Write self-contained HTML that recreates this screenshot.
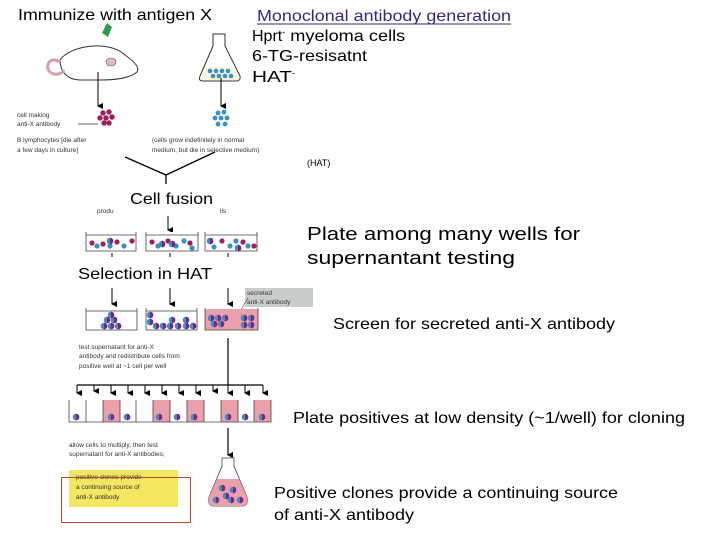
<!DOCTYPE html>
<html><head><meta charset="utf-8"><style>
html,body{margin:0;padding:0;background:#fff;}
svg{display:block;font-family:"Liberation Sans",sans-serif;}
</style></head><body>
<svg width="720" height="540" viewBox="0 0 720 540" xmlns="http://www.w3.org/2000/svg">
<defs>
<marker id="ah" markerWidth="6" markerHeight="6" refX="3" refY="5" orient="auto" markerUnits="userSpaceOnUse">
<path d="M0,0 L6,0 L3,6 z" fill="#000"/></marker>
<g id="cm"><circle r="3.3" fill="#3a8fc7"/><path d="M0,-3.3 A3.3,3.3 0 0 1 0,3.3 z" fill="#8a1f7a"/></g>
</defs>

<!-- Titles -->
<text x="18" y="20" font-size="16" textLength="194" lengthAdjust="spacingAndGlyphs">Immunize with antigen X</text>
<text x="257" y="21" font-size="16" fill="#2e2e7a" textLength="254" lengthAdjust="spacingAndGlyphs">Monoclonal antibody generation</text>
<line x1="257" y1="24" x2="511" y2="24" stroke="#2e2e7a" stroke-width="1"/>
<text x="252" y="41" font-size="16">Hprt<tspan font-size="9" dy="-6">-</tspan><tspan dy="6" textLength="120" lengthAdjust="spacingAndGlyphs"> myeloma cells</tspan></text>
<text x="252" y="61" font-size="16" textLength="115" lengthAdjust="spacingAndGlyphs">6-TG-resisatnt</text>
<text x="252" y="82" font-size="16" textLength="40" lengthAdjust="spacingAndGlyphs">HAT</text><text x="292" y="76" font-size="9">-</text>

<!-- mouse -->
<path d="M60,60 C70,45 110,40 125,55 C135,62 140,68 137,72 C130,78 115,80 100,80 L80,80 C68,80 60,72 60,60 z" fill="#fff" stroke="#333" stroke-width="1"/>
<path d="M60,62 C48,55 45,68 50,72 C55,76 62,74 64,70" fill="none" stroke="#d6a0a8" stroke-width="3"/>
<ellipse cx="111" cy="62" rx="5" ry="4" fill="#e4b8be" stroke="#555" stroke-width="0.6"/>
<path d="M102,33 L107,23 L112,27 L108,37 z" fill="#2e9a4e"/>
<!-- flask 1 -->
<path d="M213,34 L225,34 L225,46 L240,76 Q241,81 236,81 L203,81 Q198,81 200,76 L213,46 z" fill="#fff" stroke="#333" stroke-width="1"/>
<path d="M206,67 L233,67 L239,77 Q240,80 236,80 L203,80 Q200,80 201,77 z" fill="#f8f4dc"/>
<g fill="#3a8fc7"><circle cx="210" cy="71" r="2.3"/><circle cx="216" cy="71" r="2.3"/><circle cx="222" cy="71" r="2.3"/><circle cx="228" cy="71" r="2.3"/><circle cx="213" cy="76" r="2.3"/><circle cx="219" cy="76" r="2.3"/><circle cx="225" cy="76" r="2.3"/><circle cx="231" cy="76" r="2.3"/></g>

<line x1="98" y1="72" x2="98" y2="106" stroke="#000" marker-end="url(#ah)"/>
<line x1="221" y1="78" x2="221" y2="106" stroke="#000" marker-end="url(#ah)"/>
<g fill="#a0205e"><circle cx="103" cy="113" r="2.7"/><circle cx="109" cy="112" r="2.7"/><circle cx="100" cy="118" r="2.7"/><circle cx="106" cy="118" r="2.7"/><circle cx="112" cy="117" r="2.7"/><circle cx="104" cy="123" r="2.7"/><circle cx="109" cy="123" r="2.7"/></g>
<g fill="#3a8fc7"><circle cx="218" cy="113" r="2.4"/><circle cx="224" cy="112" r="2.4"/><circle cx="215" cy="118" r="2.4"/><circle cx="221" cy="118" r="2.4"/><circle cx="227" cy="118" r="2.4"/><circle cx="218" cy="124" r="2.4"/><circle cx="225" cy="124" r="2.4"/></g>
<g font-size="6.5" fill="#333">
<text x="17" y="117">cell making</text><text x="17" y="126">anti-X antibody</text>
<line x1="78" y1="124" x2="98" y2="124" stroke="#333" stroke-width="0.7"/>
<text x="17" y="142">B lymphocytes [die after</text><text x="17" y="152">a few days in culture]</text>
<text x="152" y="142">(cells grow indefinitely in normal</text><text x="152" y="152">medium, but die in selective medium)</text>
<text x="97" y="213">produ</text><text x="220" y="213">lls</text>
</g>
<text x="307" y="166" font-size="9">(HAT)</text>
<!-- Y join -->
<path d="M125,157 L166,175 L215,152 M166,175 L166,184" fill="none" stroke="#000" stroke-width="1.3"/>
<text x="130" y="204" font-size="16" textLength="83" lengthAdjust="spacingAndGlyphs">Cell fusion</text>
<line x1="168" y1="216" x2="168" y2="230" stroke="#000" marker-end="url(#ah)"/>
<!-- dishes 1 -->
<g fill="#fff" stroke="#444" stroke-width="0.8">
<path d="M86,232 L86,251 L136,251 L136,232 M86,235 L136,235"/>
<path d="M146,232 L146,251 L198,251 L198,232 M146,235 L198,235"/>
<path d="M205,232 L205,251 L257,251 L257,232 M205,235 L257,235"/>
</g>
<g fill="#a0205e"><circle cx="92" cy="243" r="2.6"/><circle cx="103" cy="244" r="2.6"/><circle cx="117" cy="242" r="2.6"/><circle cx="132" cy="241" r="2.6"/><circle cx="152" cy="242" r="2.6"/><circle cx="168" cy="241" r="2.6"/><circle cx="190" cy="243" r="2.6"/><circle cx="222" cy="241" r="2.6"/><circle cx="243" cy="242" r="2.6"/><circle cx="254" cy="246" r="2.6"/></g>
<g fill="#3a8fc7"><circle cx="97" cy="246" r="2.6"/><circle cx="110" cy="246" r="2.6"/><circle cx="124" cy="246" r="2.6"/><circle cx="158" cy="246" r="2.6"/><circle cx="176" cy="246" r="2.6"/><circle cx="184" cy="241" r="2.6"/><circle cx="192" cy="248" r="2.6"/><circle cx="214" cy="247" r="2.6"/><circle cx="230" cy="246" r="2.6"/><circle cx="236" cy="241" r="2.6"/><circle cx="248" cy="246" r="2.6"/></g>
<use href="#cm" x="110" y="241"/><use href="#cm" x="162" y="244"/><use href="#cm" x="172" y="244"/><use href="#cm" x="210" y="241"/><use href="#cm" x="238" y="248"/>
<g stroke="#000"><line x1="112" y1="253" x2="112" y2="257"/><line x1="170" y1="253" x2="170" y2="257"/><line x1="228" y1="253" x2="228" y2="257"/></g>
<text x="78" y="279" font-size="16" textLength="134" lengthAdjust="spacingAndGlyphs">Selection in HAT</text>
<!-- arrows 2 -->
<g stroke="#000"><line x1="112" y1="288" x2="112" y2="304" marker-end="url(#ah)"/><line x1="170" y1="288" x2="170" y2="304" marker-end="url(#ah)"/><line x1="228" y1="288" x2="228" y2="304" marker-end="url(#ah)"/></g>
<rect x="245" y="288" width="68" height="19" fill="#c9cdc9"/>
<text x="247" y="295" font-size="6.5" fill="#333">secreted</text><text x="247" y="304" font-size="6.5" fill="#333">anti-X antibody</text>
<line x1="248" y1="298" x2="236" y2="318" stroke="#333" stroke-width="0.6"/>
<rect x="205" y="309" width="53" height="21" fill="#eaa0aa"/>
<g fill="none" stroke="#444" stroke-width="0.8">
<path d="M86,308 L86,330 L137,330 L137,308 M86,311 L137,311"/>
<path d="M146,308 L146,330 L197,330 L197,308 M146,311 L197,311"/>
<path d="M205,308 L205,330 L258,330 L258,308"/>
</g>
<g>
<use href="#cm" x="107" y="320"/><use href="#cm" x="114" y="320"/><use href="#cm" x="104" y="326"/><use href="#cm" x="111" y="326"/><use href="#cm" x="118" y="326"/><use href="#cm" x="111" y="315"/>
<use href="#cm" x="150" y="315"/><use href="#cm" x="150" y="322"/><use href="#cm" x="156" y="326"/><use href="#cm" x="163" y="326"/><use href="#cm" x="172" y="320"/><use href="#cm" x="170" y="326"/><use href="#cm" x="178" y="326"/><use href="#cm" x="186" y="320"/><use href="#cm" x="186" y="326"/><use href="#cm" x="193" y="326"/>
<use href="#cm" x="211" y="318"/><use href="#cm" x="218" y="318"/><use href="#cm" x="225" y="318"/><use href="#cm" x="214" y="324"/><use href="#cm" x="221" y="324"/>
<use href="#cm" x="244" y="318"/><use href="#cm" x="251" y="318"/><use href="#cm" x="244" y="325"/><use href="#cm" x="251" y="325"/>
</g>
<!-- redistribute -->
<line x1="228" y1="338" x2="228" y2="385" stroke="#000" stroke-width="1.2"/>
<g font-size="6.5" fill="#333"><text x="79" y="349">test supernatant for anti-X</text><text x="79" y="358">antibody and redistribute cells from</text><text x="79" y="368">positive well at ~1 cell per well</text></g>
<line x1="77" y1="385" x2="263" y2="385" stroke="#000" stroke-width="1.2"/>
<g stroke="#000">
<line x1="77" y1="385" x2="77" y2="393" marker-end="url(#ah)"/><line x1="94" y1="385" x2="94" y2="391" marker-end="url(#ah)"/><line x1="111" y1="385" x2="111" y2="393" marker-end="url(#ah)"/><line x1="128" y1="385" x2="128" y2="393" marker-end="url(#ah)"/><line x1="145" y1="385" x2="145" y2="393" marker-end="url(#ah)"/><line x1="162" y1="385" x2="162" y2="393" marker-end="url(#ah)"/><line x1="179" y1="385" x2="179" y2="393" marker-end="url(#ah)"/><line x1="196" y1="385" x2="196" y2="393" marker-end="url(#ah)"/><line x1="213" y1="385" x2="213" y2="391" marker-end="url(#ah)"/><line x1="228" y1="385" x2="228" y2="393" marker-end="url(#ah)"/><line x1="245" y1="385" x2="245" y2="393" marker-end="url(#ah)"/><line x1="263" y1="385" x2="263" y2="393" marker-end="url(#ah)"/>
</g>
<!-- wells -->
<g fill="#eaa0aa"><rect x="103" y="400" width="17" height="22"/><rect x="153" y="400" width="17" height="22"/><rect x="187" y="400" width="17" height="22"/><rect x="221" y="400" width="17" height="22"/><rect x="254" y="400" width="17" height="22"/></g>
<g fill="none" stroke="#444" stroke-width="0.8">
<path d="M69,422 L271,422"/>
<path d="M69,400 V422 M86,400 V422 M103,400 V422 M120,400 V422 M136,400 V422 M153,400 V422 M170,400 V422 M187,400 V422 M204,400 V422 M221,400 V422 M238,400 V422 M254,400 V422 M271,400 V422"/>
</g>
<use href="#cm" x="76" y="417"/><use href="#cm" x="111" y="417"/><use href="#cm" x="127" y="417"/><use href="#cm" x="159" y="417"/><use href="#cm" x="177" y="417"/><use href="#cm" x="194" y="417"/><use href="#cm" x="228" y="417"/><use href="#cm" x="245" y="417"/><use href="#cm" x="262" y="417"/>
<line x1="228" y1="428" x2="228" y2="455" stroke="#000" stroke-width="1.2" marker-end="url(#ah)"/>
<g font-size="6.5" fill="#333"><text x="69" y="447">allow cells to multiply, then test</text><text x="69" y="456">supernatant for anti-X antibodies;</text></g>
<!-- flask 2 -->
<path d="M222,458 L234,458 L234,466 L247,497 Q249,506 242,506 L214,506 Q207,506 209,497 L222,466 z" fill="#fff" stroke="#444" stroke-width="0.8"/>
<path d="M217,479 L239,479 L247,497 Q249,506 242,506 L214,506 Q207,506 209,497 z" fill="#eaa0aa"/>
<use href="#cm" x="222" y="488"/><use href="#cm" x="233" y="490"/><use href="#cm" x="226" y="496"/><use href="#cm" x="216" y="500"/><use href="#cm" x="231" y="500"/><use href="#cm" x="240" y="500"/>
<!-- yellow box -->
<rect x="69" y="470" width="109" height="37" fill="#f3e660"/>
<g font-size="6.5" fill="#333"><text x="76" y="479">positive clones provide</text><text x="76" y="489">a continuing source of</text><text x="76" y="499">anti-X antibody</text></g>
<rect x="61.5" y="477.5" width="129" height="45" fill="none" stroke="#b04a2a" stroke-width="1"/>
<!-- right texts -->
<text x="307" y="240" font-size="18" textLength="273" lengthAdjust="spacingAndGlyphs">Plate among many wells for</text>
<text x="307" y="264" font-size="18" textLength="208" lengthAdjust="spacingAndGlyphs">supernantant testing</text>
<text x="333" y="329" font-size="16" textLength="282" lengthAdjust="spacingAndGlyphs">Screen for secreted anti-X antibody</text>
<text x="293" y="423" font-size="16" textLength="392" lengthAdjust="spacingAndGlyphs">Plate positives at low density (~1/well) for cloning</text>
<text x="274" y="498" font-size="16" textLength="344" lengthAdjust="spacingAndGlyphs">Positive clones provide a continuing source</text>
<text x="274" y="520" font-size="16" textLength="140" lengthAdjust="spacingAndGlyphs">of anti-X antibody</text>
</svg>
</body></html>
